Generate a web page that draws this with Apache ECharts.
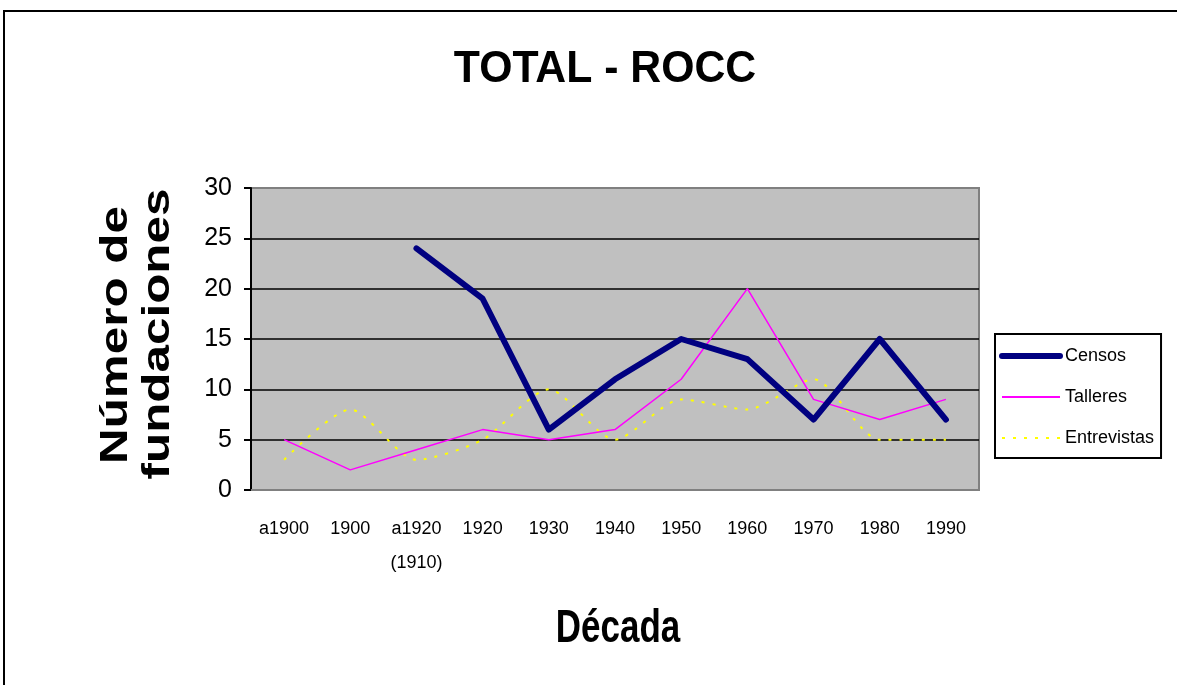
<!DOCTYPE html>
<html>
<head>
<meta charset="utf-8">
<script src="https://cdn.jsdelivr.net/npm/echarts@6/dist/echarts.min.js"></script>
<style>
  html, body { margin: 0; padding: 0; background: #fff; }
  #chart { width: 1177px; height: 685px; }
</style>
</head>
<body>
<div id="chart"></div>
<script>
// categories (decades) and series values
const decadas = ['a1900', '1900', 'a1920\n(1910)', '1920', '1930', '1940', '1950', '1960', '1970', '1980', '1990'];
const censos = [null, null, 24, 19, 6, 11, 15, 13, 7, 15, 7];
const talleres = [5, 2, 4, 6, 5, 6, 11, 20, 9, 7, 9];
const entrevistas = [3, 8, 3, 5, 10, 5, 9, 8, 11, 5, 5];

const font = '"Liberation Sans", Arial, sans-serif';

const chart = echarts.init(document.getElementById('chart'));

const option = {
  backgroundColor: '#fff',
  animation: false,
  graphic: [
    {
      type: 'polyline',
      shape: { points: [[4, 690], [4, 11], [1180, 11]] },
      style: { stroke: '#000', lineWidth: 2, fill: null }
    },
    {
      type: 'text',
      x: 605, y: 70,
      scaleX: 0.95,
      style: {
        text: 'TOTAL - ROCC',
        font: 'bold 45px ' + font,
        fill: '#000',
        align: 'center',
        verticalAlign: 'middle'
      }
    },
    {
      type: 'text',
      x: 117, y: 335,
      rotation: Math.PI / 2,
      scaleX: 1.3,
      style: {
        text: 'Número de',
        font: 'bold 38px ' + font,
        fill: '#000',
        align: 'center',
        verticalAlign: 'middle'
      }
    },
    {
      type: 'text',
      x: 159, y: 334,
      rotation: Math.PI / 2,
      scaleX: 1.3,
      style: {
        text: 'fundaciones',
        font: 'bold 38px ' + font,
        fill: '#000',
        align: 'center',
        verticalAlign: 'middle'
      }
    },
    {
      type: 'text',
      x: 618, y: 629,
      scaleX: 0.76,
      style: {
        text: 'Década',
        font: 'bold 46px ' + font,
        fill: '#000',
        align: 'center',
        verticalAlign: 'middle'
      }
    }
  ],
  grid: {
    left: 251,
    right: 198,
    top: 188,
    bottom: 195,
    show: true,
    backgroundColor: '#C0C0C0',
    borderColor: '#808080',
    borderWidth: 2
  },
  legend: {
    orient: 'vertical',
    left: 995,
    top: 334,
    padding: [13, 7, 11, 4],
    itemWidth: 58,
    itemHeight: 14,
    itemGap: 23,
    backgroundColor: '#fff',
    borderColor: '#000',
    borderWidth: 2,
    itemStyle: { opacity: 0 },
    textStyle: { fontFamily: font, fontSize: 18, color: '#000' },
    data: [
      { name: 'Censos', lineStyle: { color: '#000080', width: 6, cap: 'round' } },
      { name: 'Talleres', lineStyle: { color: '#FF00FF', width: 2 } },
      { name: 'Entrevistas', lineStyle: { color: '#FFFF00', width: 2, type: [3, 8] } }
    ]
  },
  xAxis: {
    type: 'category',
    data: decadas,
    boundaryGap: true,
    axisLine: { show: true, lineStyle: { color: '#808080', width: 2 } },
    axisTick: { show: false },
    axisLabel: {
      interval: 0,
      margin: 22,
      color: '#000',
      fontFamily: font,
      fontSize: 18,
      lineHeight: 34
    },
    splitLine: { show: false }
  },
  yAxis: {
    type: 'value',
    min: 0,
    max: 30,
    interval: 5,
    axisLine: { show: true, lineStyle: { color: '#000', width: 2 } },
    axisTick: { show: true, inside: false, length: 7, lineStyle: { color: '#000', width: 2 } },
    axisLabel: {
      margin: 19,
      color: '#000',
      fontFamily: font,
      fontSize: 25
    },
    splitLine: {
      show: true,
      lineStyle: { color: ['#808080', '#000', '#000', '#000', '#000', '#000'], width: 1.5 }
    }
  },
  series: [
    {
      name: 'Censos',
      type: 'line',
      data: censos,
      symbol: 'none',
      connectNulls: false,
      z: 4,
      lineStyle: { color: '#000080', width: 6, cap: 'round', join: 'round' },
      itemStyle: { color: '#000080' }
    },
    {
      name: 'Talleres',
      type: 'line',
      data: talleres,
      symbol: 'none',
      z: 3,
      lineStyle: { color: '#FF00FF', width: 1.5 },
      itemStyle: { color: '#FF00FF' }
    },
    {
      name: 'Entrevistas',
      type: 'line',
      data: entrevistas,
      symbol: 'none',
      smooth: 0.25,
      z: 2,
      lineStyle: { color: '#FFFF00', width: 2, type: [3, 8] },
      itemStyle: { color: '#FFFF00' }
    }
  ]
};

chart.setOption(option);
</script>
</body>
</html>
